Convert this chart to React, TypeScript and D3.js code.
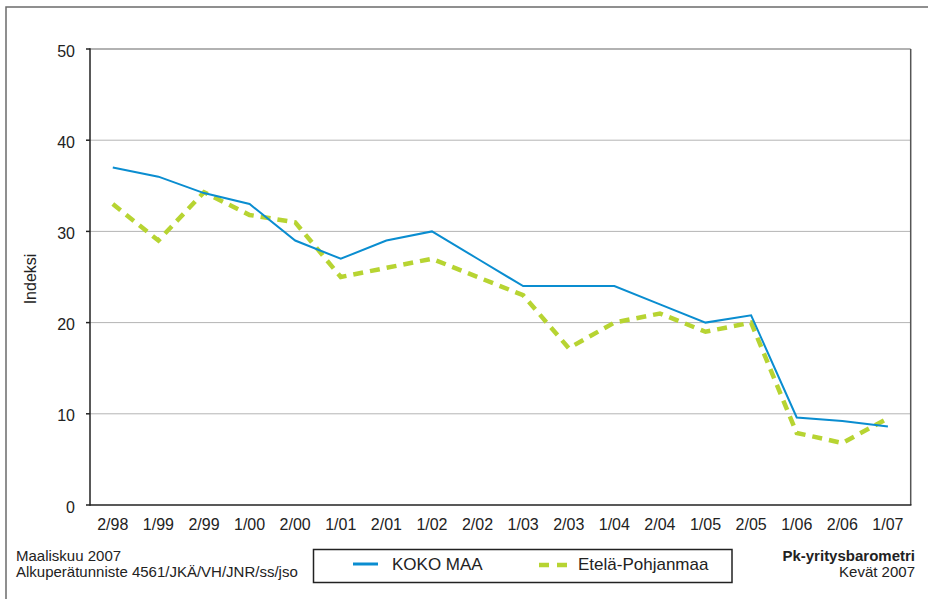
import React from "react";
import * as d3 from "d3";

const categories = ["2/98","1/99","2/99","1/00","2/00","1/01","2/01","1/02","2/02","1/03","2/03","1/04","2/04","1/05","2/05","1/06","2/06","1/07"];
const kokoMaa = [37, 36, 34.2, 33, 29, 27, 29, 30, 27, 24, 24, 24, 22, 20, 20.8, 9.6, 9.2, 8.6];
const etelaPohjanmaa = [33, 29, 34.3, 31.8, 31, 25, 26, 27, 25, 23, 17.2, 20, 21, 19, 20, 7.9, 6.8, 9.5];
const yTicks = [0, 10, 20, 30, 40, 50];

const W = 928, H = 599;
const L = 90, R = 910.7, T = 49, B = 505;
const BLUE = "#0a8dd0";
const GREEN = "#b7d432";
const FONT = "'Liberation Sans', Arial, sans-serif";

export default function App() {
  const x = d3.scaleBand<string>().domain(categories).range([L, R]).padding(0);
  const y = d3.scaleLinear().domain([0, 50]).range([B, T]);
  const cx = (c: string) => (x(c) as number) + x.bandwidth() / 2;
  const line = d3.line<number>().x((_, i) => cx(categories[i])).y((v) => y(v));

  return (
    <div style={{ position: "absolute", left: 0, top: 0 }}>
      <svg width={W} height={H} style={{ display: "block", fontFamily: FONT }}>
        <rect x={0} y={0} width={W} height={H} fill="#fff" />
        <rect x={6} y={7} width={940} height={610} fill="none" stroke="#6b6b6b" strokeWidth={1.5} />
        {/* gridlines */}
        {yTicks.filter((t) => t > 0 && t < 50).map((t) => (
          <line key={t} x1={L} x2={R} y1={y(t)} y2={y(t)} stroke="#b4b4b4" strokeWidth={1} />
        ))}
        {/* plot border */}
        <line x1={L} x2={R} y1={y(50)} y2={y(50)} stroke="#999" strokeWidth={1.5} />
        <line x1={R} x2={R} y1={y(50)} y2={B} stroke="#555" strokeWidth={1.5} />
        <line x1={L} x2={R + 0.75} y1={B} y2={B} stroke="#222" strokeWidth={1.5} />
        <line x1={L} x2={L} y1={y(50) - 0.75} y2={B + 0.75} stroke="#222" strokeWidth={1.5} />
        {/* y ticks */}
        {yTicks.map((t) => (
          <g key={t}>
            <line x1={L - 4} x2={L} y1={y(t)} y2={y(t)} stroke="#222" strokeWidth={1.5} />
            <text x={75} y={y(t) + 2} dy="0.35em" textAnchor="end" fontSize={16} fill="#222">{t}</text>
          </g>
        ))}
        {/* x labels */}
        {categories.map((c) => (
          <text key={c} x={cx(c)} y={530} textAnchor="middle" fontSize={16} fill="#222">{c}</text>
        ))}
        <text transform={`translate(36,${(T + B) / 2 + 2}) rotate(-90)`} textAnchor="middle" fontSize={16} fill="#222">Indeksi</text>
        {/* series */}
        <path d={line(etelaPohjanmaa) || ""} fill="none" stroke={GREEN} strokeWidth={4.5} strokeDasharray="10,7" />
        <path d={line(kokoMaa) || ""} fill="none" stroke={BLUE} strokeWidth={2} strokeLinejoin="miter" />
        {/* footer left */}
        <text x={16} y={561} fontSize={15} fill="#222">Maaliskuu 2007</text>
        <text x={16} y={577} fontSize={15} fill="#222">Alkuperätunniste 4561/JKÄ/VH/JNR/ss/jso</text>
        {/* legend */}
        <rect x={313.5} y={549.5} width={418.5} height={33} fill="#fff" stroke="#222" strokeWidth={1.5} />
        <line x1={353} x2={378} y1={564} y2={564} stroke={BLUE} strokeWidth={3} />
        <text x={392} y={570} fontSize={17} fill="#222">KOKO MAA</text>
        <line x1={539} x2={567} y1={565} y2={565} stroke={GREEN} strokeWidth={4.5} strokeDasharray="10,8" />
        <text x={578} y={570} fontSize={17} fill="#222">Etelä-Pohjanmaa</text>
        {/* footer right */}
        <text x={915} y={561} textAnchor="end" fontSize={15} fontWeight="bold" fill="#222">Pk-yritysbarometri</text>
        <text x={915} y={577} textAnchor="end" fontSize={15} fill="#222">Kevät 2007</text>
      </svg>
    </div>
  );
}
